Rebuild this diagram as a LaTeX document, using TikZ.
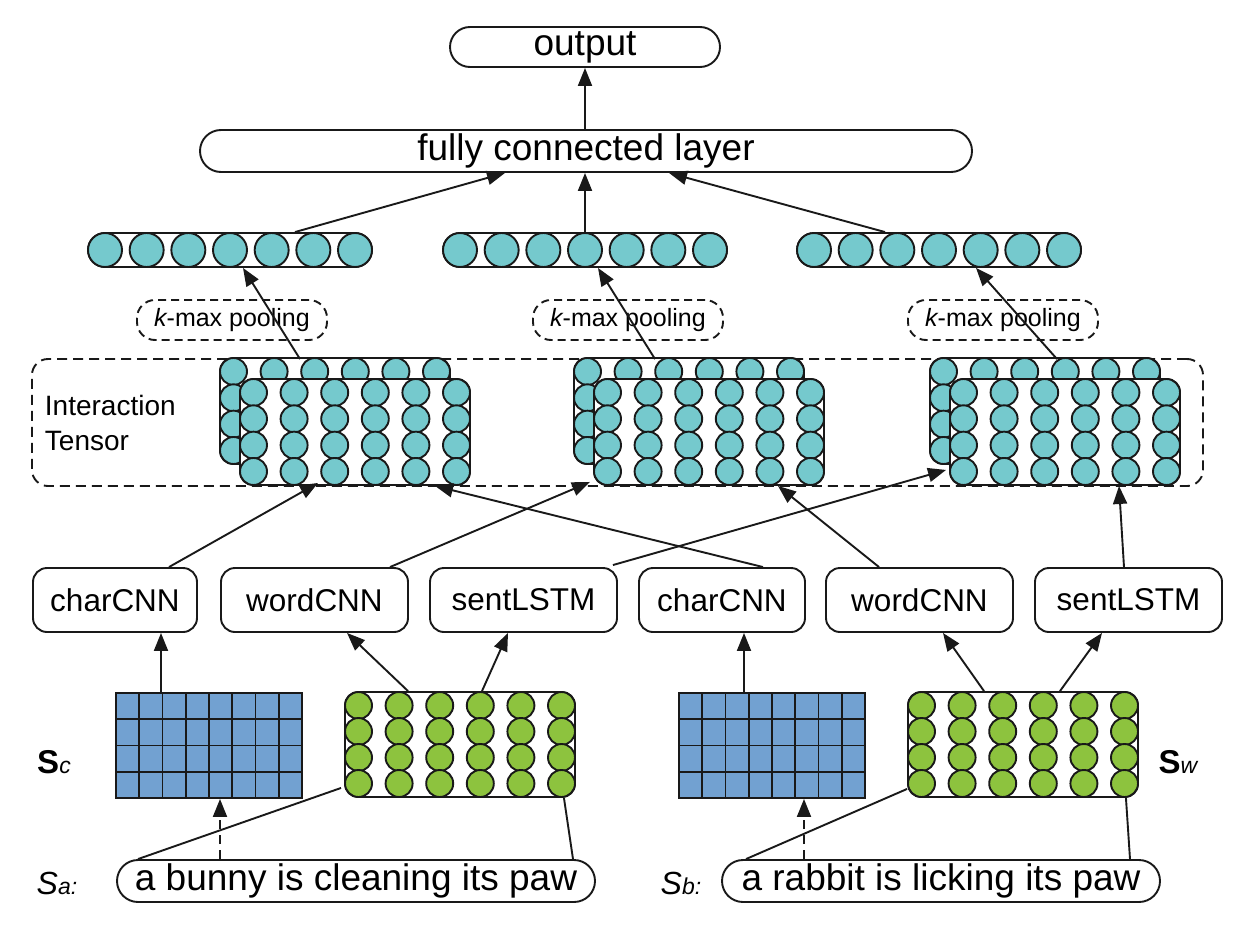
\documentclass[tikz,border=0pt]{standalone}
\usepackage{fontspec}
\setmainfont{Liberation Sans}
\usetikzlibrary{arrows.meta,calc}
\definecolor{tealc}{RGB}{117,201,205}
\definecolor{greenc}{RGB}{141,195,62}
\definecolor{bluec}{RGB}{114,161,209}
\definecolor{inkc}{RGB}{25,25,25}
\tikzset{
  lbl/.style={draw=inkc, fill=white, rounded corners=14pt, minimum height=64pt, inner sep=0pt, font=\fontsize{31.5}{36}\selectfont},
  pill/.style={draw=inkc, fill=white, inner sep=0pt, font=\fontsize{37}{40}\selectfont},
  kbox/.style={draw=inkc, dash pattern=on 8pt off 5pt, rounded corners=18pt, minimum width=190pt, minimum height=40pt, inner sep=0pt, font=\fontsize{25}{28}\selectfont},
  tcir/.style={circle, draw=inkc, fill=tealc, inner sep=0pt, minimum size=27pt},
  pcir/.style={circle, draw=inkc, fill=tealc, inner sep=0pt, minimum size=34pt},
  gcir/.style={circle, draw=inkc, fill=greenc, inner sep=0pt, minimum size=27pt},
  arr/.style={draw=inkc, -{Triangle[length=18pt,width=14pt]}},
  plain/.style={draw=inkc},
  dasharr/.style={draw=inkc, dash pattern=on 9pt off 6pt, -{Triangle[length=18pt,width=14pt]}},
}
\begin{document}
\begin{tikzpicture}[x=1pt,y=-1pt,line width=1.9pt]
\useasboundingbox (0,0) rectangle (1248,926);

% top boxes
\node[pill, rounded corners=20pt, minimum width=270pt, minimum height=40pt] (out) at (585,47) {output};
\node[pill, rounded corners=21pt, minimum width=772pt, minimum height=42pt] (fc) at (586,151) {fully connected layer};

% pooled vectors
\foreach \cx/\nm in {230/A,585/B,939/C}{
  \node[draw=inkc, rounded corners=17pt, minimum width=284pt, minimum height=34pt, inner sep=0pt] (pool\nm) at (\cx,250) {};
  \foreach \k in {0,...,6}{
    \node[pcir] (pool\nm-\k) at ({\cx-125+41.667*\k},250) {};
  }
}

% k-max pooling labels
\node[kbox] (kA) at (232,320) {{\itshape k}-max pooling};
\node[kbox] (kB) at (628,320) {{\itshape k}-max pooling};
\node[kbox] (kC) at (1003,320) {{\itshape k}-max pooling};

% interaction tensor frame
\node[draw=inkc, dash pattern=on 10pt off 6pt, rounded corners=16pt, minimum width=1171pt, minimum height=127pt, inner sep=0pt] (itbox) at (617.5,422.5) {};
\node[anchor=west, align=left, font=\fontsize{28}{35}\selectfont, inner sep=0pt] (itlbl) at (44,423) {Interaction\\Tensor};

% tensor blocks
\foreach \dx/\nm in {0/A,354/B,710/C}{
  \node[draw=inkc, fill=white, rounded corners=13pt, minimum width=230pt, minimum height=106pt, inner sep=0pt] (back\nm) at ({335+\dx},411) {};
  \foreach \i in {0,...,3}{
    \foreach \j in {0,...,5}{
      \node[tcir] (bc\nm-\i-\j) at ({233.5+\dx+40.6*\j},{371.5+26.33*\i}) {};
    }
  }
  \node[draw=inkc, fill=white, rounded corners=13pt, minimum width=230pt, minimum height=106pt, inner sep=0pt] (front\nm) at ({355+\dx},432) {};
  \foreach \i in {0,...,3}{
    \foreach \j in {0,...,5}{
      \node[tcir] (fc\nm-\i-\j) at ({253.5+\dx+40.6*\j},{392.5+26.33*\i}) {};
    }
  }
}

% middle boxes
\node[lbl, minimum width=164pt] (caA) at (115,600) {charCNN};
\node[lbl, minimum width=187pt] (wA) at (314.5,600) {wordCNN};
\node[lbl, minimum width=187pt] (sA) at (523.5,600) {sentLSTM};
\node[lbl, minimum width=166pt] (cB) at (722,600) {charCNN};
\node[lbl, minimum width=187pt] (wB) at (919.5,600) {wordCNN};
\node[lbl, minimum width=187pt] (sLB) at (1128.5,600) {sentLSTM};

% bottom blocks
\foreach \dx/\nm in {0/A,563/B}{
  \node[draw=inkc, fill=bluec, minimum width=186pt, minimum height=105pt, inner sep=0pt] (grid\nm) at ({209+\dx},745.5) {};
  \foreach \k in {1,...,7}{
    \draw[inkc] ({116+\dx+23.25*\k},693) -- ({116+\dx+23.25*\k},798);
  }
  \foreach \k in {1,...,3}{
    \draw[inkc] ({116+\dx},{693+26.25*\k}) -- ({302+\dx},{693+26.25*\k});
  }
  \node[draw=inkc, fill=white, rounded corners=13pt, minimum width=230pt, minimum height=105pt, inner sep=0pt] (green\nm) at ({460+\dx},744.5) {};
  \foreach \i in {0,...,3}{
    \foreach \j in {0,...,5}{
      \node[gcir] (gc\nm-\i-\j) at ({358.5+\dx+40.6*\j},{705.5+26*\i}) {};
    }
  }
}

% sentences
\node[pill, rounded corners=21pt, minimum width=478pt, minimum height=42pt] (senA) at (356,881) {a bunny is cleaning its paw};
\node[pill, rounded corners=21pt, minimum width=438pt, minimum height=42pt] (senB) at (941,881) {a rabbit is licking its paw};

% labels
\node[font=\fontsize{33}{36}\selectfont, inner sep=0pt] (scl) at (54,762) {\bfseries S\fontsize{23}{24}\selectfont\mdseries\itshape c};
\node[font=\fontsize{33}{36}\selectfont, inner sep=0pt] (swl) at (1178,762) {\bfseries S\fontsize{23}{24}\selectfont\mdseries\itshape w};
\node[font=\fontsize{32}{36}\selectfont\itshape, inner sep=0pt] (sal) at (57,883) {S\fontsize{23}{24}\selectfont a:};
\node[font=\fontsize{32}{36}\selectfont\itshape, inner sep=0pt] (sbl) at (681,883) {S\fontsize{23}{24}\selectfont b:};

% arrows top
\draw[arr] (fc.north -| out.south) -- (out.south);
\draw[arr] ($(poolA.north)+(65,0)$) -- ($(fc.south)+(-81,0)$);
\draw[arr] (poolB.north) -- (fc.south -| poolB.north);
\draw[arr] ($(poolC.north)+(-54,0)$) -- ($(fc.south)+(83,0)$);

% tensor -> pool
\draw[arr] ($(backA.north)+(-35,2)$) -- ($(poolA.south)+(13,0)$);
\draw[arr] ($(backB.north)+(-34,2)$) -- ($(poolB.south)+(13,0)$);
\draw[arr] ($(backC.north)+(12,2)$) -- ($(poolC.south)+(37,0)$);

% encoders -> tensor
\draw[arr] ($(caA.north)+(54,0)$) -- ($(frontA.south)+(-37,-3)$);
\draw[arr] ($(wA.north)+(75.5,0)$) -- ($(frontB.south)+(-119,-4)$);
\draw[arr] ($(sA.north east)+(-5,-2)$) -- ($(frontC.south west)+(-3,-16)$);
\draw[arr] ($(cB.north)+(41,0)$) -- ($(frontA.south)+(80,0)$);
\draw[arr] ($(wB.north)+(-40.5,0)$) -- ($(frontB.south)+(69,0)$);
\draw[arr] ($(sLB.north)+(-4.5,0)$) -- ($(frontC.south)+(54,0)$);

% inputs -> encoders
\draw[arr] ($(gridA.north)+(-48,0)$) -- ($(caA.south)+(46,0)$);
\draw[arr] ($(greenA.north)+(-52,0)$) -- ($(wA.south)+(32.5,0)$);
\draw[arr] ($(greenA.north)+(22,0)$) -- ($(sA.south)+(-15.5,0)$);
\draw[arr] ($(gridB.north)+(-28,0)$) -- ($(cB.south)+(22,0)$);
\draw[arr] ($(greenB.north)+(-39,0)$) -- ($(wB.south)+(23.5,0)$);
\draw[arr] ($(greenB.north)+(37,0)$) -- ($(sLB.south)+(-26.5,0)$);

% sentence -> inputs
\draw[plain] ($(senA.north)+(-218,0)$) -- ($(greenA.south west)+(-3,-10)$);
\draw[plain] ($(senA.north)+(217,0)$) -- ($(greenA.south east)+(-12,0)$);
\draw[dasharr] ($(senA.north)+(-136,0)$) -- ($(gridA.south)+(11,0)$);
\draw[plain] ($(senB.north)+(-195,0)$) -- ($(greenB.south west)+(0,-9)$);
\draw[plain] ($(senB.north)+(189,0)$) -- ($(greenB.south east)+(-13,0)$);
\draw[dasharr] ($(senB.north)+(-137,0)$) -- ($(gridB.south)+(32,0)$);
\end{tikzpicture}
\end{document}
